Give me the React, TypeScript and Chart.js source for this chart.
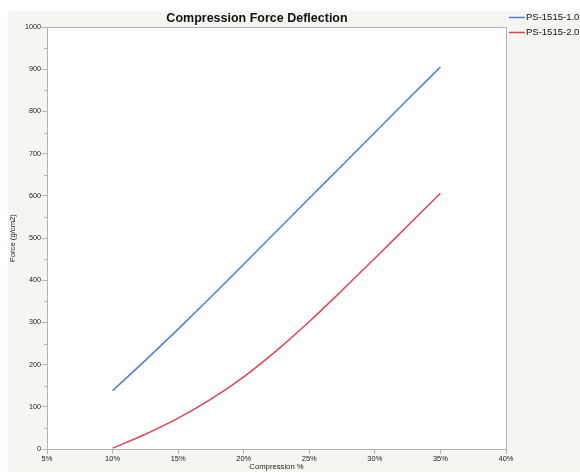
import React, { useEffect, useRef } from "react";
import { Chart, registerables } from "chart.js";

Chart.register(...registerables);

const TITLE = "Compression Force Deflection";
const X_TITLE = "Compression %";
const Y_TITLE = "Force (g/cm2)";

const compression = [10, 12.5, 15, 17.5, 20, 22.5, 25, 27.5, 30, 32.5, 35];
const series1Label = "PS-1515-1.0";
const series1 = [138, 210, 284, 360, 438, 516, 594, 672, 750, 828, 905];
const series2Label = "PS-1515-2.0";
const series2 = [2, 35, 73, 118, 171, 233, 302, 376, 452, 529, 606];

const BLUE = "#4a80dc";
const RED = "#e04456";
const AXIS = "#b4b4b4";
const BG = "#f6f5f2";
const FONT = "'Liberation Sans', Arial, Helvetica, sans-serif";

export default function App() {
  const ref = useRef<HTMLCanvasElement | null>(null);

  useEffect(() => {
    document.body.style.margin = "0";
    const canvas = ref.current;
    if (!canvas) return;

    const decor = {
      id: "decor",
      beforeDraw(chart: any) {
        const { ctx, chartArea } = chart;
        ctx.save();
        ctx.fillStyle = "#ffffff";
        ctx.fillRect(0, 0, chart.width, chart.height);
        ctx.fillStyle = BG;
        ctx.fillRect(8, 11, chart.width - 8, chart.height - 12);
        ctx.fillStyle = "#ffffff";
        ctx.fillRect(chartArea.left, chartArea.top, chartArea.right - chartArea.left, chartArea.bottom - chartArea.top);
        ctx.restore();
      },
      afterDraw(chart: any) {
        const { ctx, chartArea } = chart;
        ctx.save();
        ctx.strokeStyle = AXIS;
        ctx.lineWidth = 1;
        ctx.beginPath();
        ctx.moveTo(chartArea.left, chartArea.top + 0.5);
        ctx.lineTo(chartArea.right + 0.5, chartArea.top + 0.5);
        ctx.lineTo(chartArea.right + 0.5, chartArea.bottom);
        ctx.stroke();
        const ys = chart.scales.y;
        ctx.beginPath();
        for (let v = 50; v < 1000; v += 100) {
          const p = Math.round(ys.getPixelForValue(v)) + 0.5;
          ctx.moveTo(chartArea.left - 3, p);
          ctx.lineTo(chartArea.left, p);
        }
        ctx.stroke();
        ctx.fillStyle = "#111";
        ctx.font = `bold 12.5px ${FONT}`;
        ctx.textAlign = "center";
        ctx.textBaseline = "middle";
        ctx.fillText(TITLE, (8 + chartArea.right) / 2, 19);
        ctx.font = `9.5px ${FONT}`;
        ctx.textAlign = "left";
        chart.data.datasets.forEach((ds: any, i: number) => {
          const y = 17.5 + i * 15;
          ctx.strokeStyle = ds.borderColor;
          ctx.lineWidth = 1.5;
          ctx.beginPath();
          ctx.moveTo(chartArea.right + 3, y);
          ctx.lineTo(chartArea.right + 19, y);
          ctx.stroke();
          ctx.fillStyle = "#111";
          ctx.fillText(ds.label, chartArea.right + 20, y);
        });
        ctx.restore();
      },
    };

    const chart = new Chart(canvas, {
      type: "line",
      data: {
        datasets: [
          {
            label: series1Label,
            data: compression.map((x, i) => ({ x, y: series1[i] })),
            borderColor: BLUE,
            backgroundColor: BLUE,
            borderWidth: 1.5,
            pointRadius: 0,
            cubicInterpolationMode: "monotone",
          },
          {
            label: series2Label,
            data: compression.map((x, i) => ({ x, y: series2[i] })),
            borderColor: RED,
            backgroundColor: RED,
            borderWidth: 1.5,
            pointRadius: 0,
            cubicInterpolationMode: "monotone",
          },
        ],
      },
      plugins: [decor],
      options: {
        animation: false,
        responsive: false,
        devicePixelRatio: 1,
        layout: { padding: { left: 8, right: 74, top: 27, bottom: 1 } },
        plugins: {
          legend: { display: false },
          title: { display: false },
          tooltip: { enabled: false },
        },
        scales: {
          x: {
            type: "linear",
            min: 5,
            max: 40,
            border: { color: AXIS, width: 1 },
            grid: { drawOnChartArea: false, tickLength: 5, color: AXIS, tickColor: AXIS },
            ticks: {
              stepSize: 5,
              padding: 0,
              color: "#222",
              font: { family: FONT, size: 7.5 },
              callback: (v: any) => `${v}%`,
              maxRotation: 0,
            },
            title: {
              display: true,
              text: X_TITLE,
              padding: 0,
              color: "#222",
              font: { family: FONT, size: 7.7 },
            },
            afterFit: (s: any) => {
              s.height = 23;
            },
          },
          y: {
            min: 0,
            max: 1000,
            border: { color: AXIS, width: 1 },
            grid: { drawOnChartArea: false, tickLength: 5, color: AXIS, tickColor: AXIS },
            ticks: {
              stepSize: 100,
              padding: 1,
              color: "#222",
              font: { family: FONT, size: 7.2 },
              callback: (v: any) => String(v),
            },
            title: {
              display: true,
              text: Y_TITLE,
              padding: 0,
              color: "#222",
              font: { family: FONT, size: 7.7 },
            },
            afterFit: (s: any) => {
              s.width = 39;
            },
          },
        },
      },
    });
    return () => chart.destroy();
  }, []);

  return (
    <div style={{ width: 580, height: 473 }}>
      <canvas ref={ref} width={580} height={473} style={{ display: "block", width: 580, height: 473 }} />
    </div>
  );
}
